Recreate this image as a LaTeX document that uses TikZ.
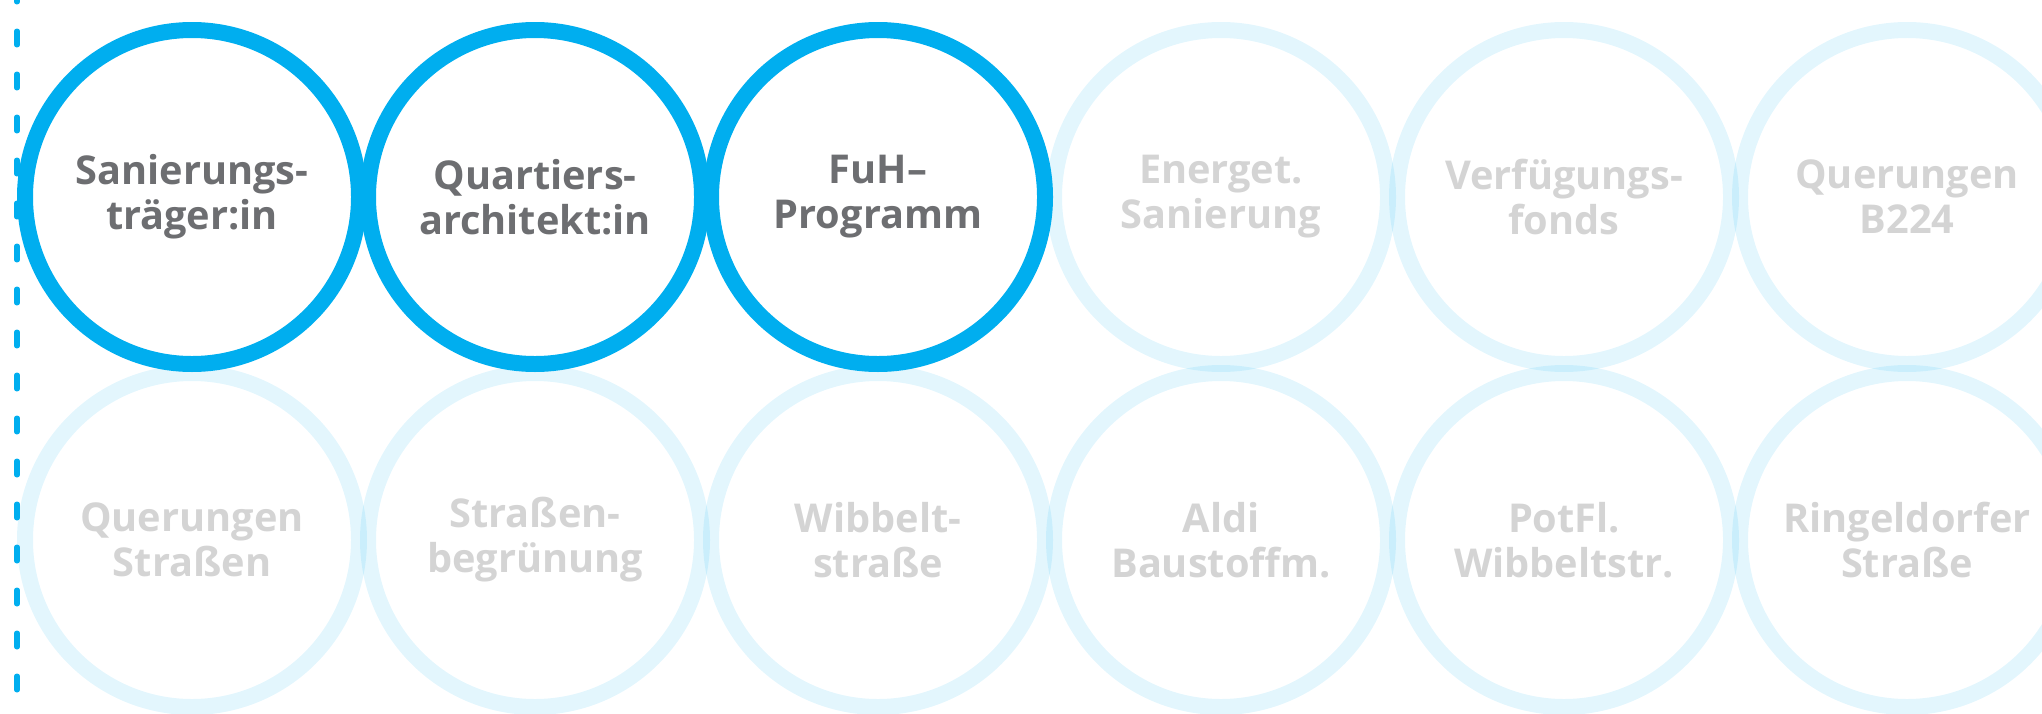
\documentclass[tikz,border=0pt]{standalone}
\usepackage{fontspec}
\setmainfont{Open Sans}
\usepackage{tikz}
\definecolor{fuhblue}{HTML}{00AEEF}
\definecolor{activegray}{HTML}{6D6E71}
\definecolor{idlegray}{HTML}{D4D4D4}

\begin{document}
\begin{tikzpicture}
  [every node/.style={circle,minimum size=3.34cm,inner sep=0pt,line width=4.55pt,align=center,
    font=\fontsize{11.3}{12.8}\selectfont\bfseries}]
 \tikzset{active/.style = {draw=fuhblue,text=activegray},
          idle/.style = {draw=fuhblue,draw opacity=.11,text=idlegray}}
  \useasboundingbox (0,0) rectangle (20.42,-7.13);
  % pale circles first
  \node[idle] (energ) at (12.21,-1.97) {Energet.\\Sanierung};
  \node[idle] (fonds) at (15.64,-1.97) {Verfügungs-\\fonds};
  \node[idle] (querb) at (19.07,-1.97) {Querungen\\B224};
  \node[idle] (querstr) at (1.92,-5.40) {Querungen\\Straßen};
  \node[idle] (begruen) at (5.35,-5.40) {Straßen-\\begrünung};
  \node[idle] (wibbelt) at (8.78,-5.40) {Wibbelt-\\straße};
  \node[idle] (aldi) at (12.21,-5.40) {Aldi\\Baustoffm.};
  \node[idle] (potfl) at (15.64,-5.40) {PotFl.\\Wibbeltstr.};
  \node[idle] (ringel) at (19.07,-5.40) {Ringeldorfer\\Straße};
  % then the three on top
  \node[active] (traeger) at (1.92,-1.97) {Sanierungs-\\träger:in};
  \node[active] (architekt) at (5.35,-1.97) {Quartiers-\\architekt:in};
  \node[active] (fuh) at (8.78,-1.97) {FuH–\\Programm};

  \coordinate (top) at (0.17,0.12);
  \coordinate (bottom) at (0.17,-7.2);
  \draw[fuhblue,line width=0.05cm,line cap=round,dash pattern=on 0.14cm off 0.29cm] (top) -- (bottom);

\end{tikzpicture}
\end{document}
